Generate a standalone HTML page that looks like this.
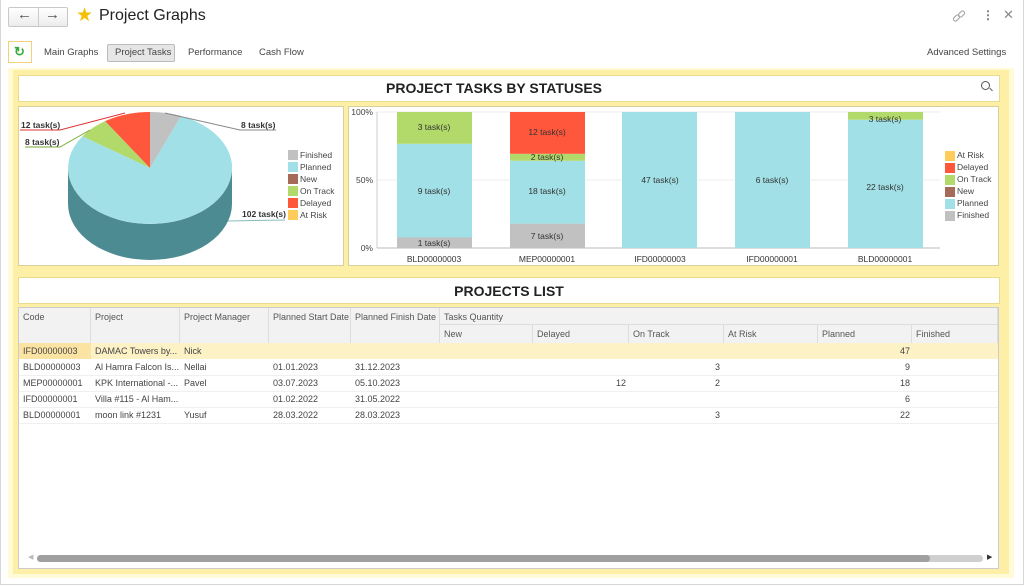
<!DOCTYPE html>
<html><head><meta charset="utf-8"><style>
*{margin:0;padding:0;box-sizing:border-box}
body{width:1024px;height:586px;overflow:hidden;background:#fff;font-family:"Liberation Sans",Arial,sans-serif;position:relative;color:#333}
.a{position:absolute}
.t{position:absolute;font-size:9px;color:#444;white-space:nowrap;line-height:16px}
.h{position:absolute;font-size:9px;color:#555;line-height:18px;padding-left:4px;border-right:1px solid #ddd;background:#f2f2f2}
</style></head><body>
<div class="a" style="left:0;top:0;width:1024px;height:585px;border:1px solid #d6d6d6;border-top:none"></div>
<!-- header -->
<div class="a" style="left:8px;top:7px;width:60px;height:20px;border:1px solid #c8c8c8;border-radius:2px;background:linear-gradient(#fff,#ececec)"></div>
<div class="a" style="left:38px;top:8px;width:1px;height:18px;background:#ccc"></div>
<div class="a" style="left:17px;top:6px;font-size:15px;color:#555;font-weight:bold">&#8592;</div>
<div class="a" style="left:45px;top:6px;font-size:15px;color:#555;font-weight:bold">&#8594;</div>
<div class="a" style="left:76px;top:4px;font-size:19px;color:#f5c000">&#9733;</div>
<div class="a" style="left:99px;top:7px;font-size:16px;color:#222">Project Graphs</div>
<svg class="a" style="left:952px;top:10px" width="14" height="14"><g fill="none" stroke="#aaa" stroke-width="1.2"><rect x="1" y="6" width="7" height="4" rx="2" transform="rotate(-45 4.5 8)"/><rect x="6" y="2" width="7" height="4" rx="2" transform="rotate(-45 9.5 4)"/></g></svg>
<div class="a" style="left:982px;top:8px;font-size:12px;color:#777;font-weight:bold">&#8942;</div>
<div class="a" style="left:1003px;top:7px;font-size:13px;color:#888">&#10005;</div>
<!-- tabs -->
<div class="a" style="left:8px;top:41px;width:24px;height:22px;border:1px solid #f1d27a;background:#fff"></div>
<div class="a" style="left:14px;top:44px;font-size:13px;color:#3aa93a;font-weight:bold">&#8635;</div>
<div class="a" style="left:44px;top:47px;font-size:9.5px;color:#444">Main Graphs</div>
<div class="a" style="left:107px;top:44px;width:68px;height:18px;border:1px solid #bbb;border-radius:2px;background:#e6e6e6"></div>
<div class="a" style="left:115px;top:47px;font-size:9.5px;color:#444">Project Tasks</div>
<div class="a" style="left:188px;top:47px;font-size:9.5px;color:#444">Performance</div>
<div class="a" style="left:259px;top:47px;font-size:9.5px;color:#444">Cash Flow</div>
<div class="a" style="left:927px;top:47px;font-size:9.5px;color:#444">Advanced Settings</div>
<!-- yellow panel -->
<div class="a" style="left:8px;top:68px;width:1006px;height:510px;background:#fffbd6"></div>
<div class="a" style="left:13px;top:70px;width:996px;height:504px;background:#fdf0a6"></div>
<div class="a" style="left:18px;top:75px;width:982px;height:27px;background:#fff;border:1px solid #e9dc8e"></div>
<div class="a" style="left:0;width:988px;top:80px;text-align:center;font-size:14px;font-weight:bold;color:#222">PROJECT TASKS BY STATUSES</div>
<div class="a" style="left:981px;top:81px;width:9px;height:9px;border:1.3px solid #555;border-radius:50%"></div>
<div class="a" style="left:989px;top:89px;width:4px;height:1.3px;background:#555;transform:rotate(45deg)"></div>
<div class="a" style="left:18px;top:106px;width:326px;height:160px;background:#fff;border:1px solid #d8cf9a"></div>
<div class="a" style="left:348px;top:106px;width:651px;height:160px;background:#fff;border:1px solid #d8cf9a"></div>
<div class="a" style="left:18px;top:277px;width:982px;height:27px;background:#fff;border:1px solid #e9dc8e"></div>
<div class="a" style="left:0;width:1018px;top:283px;text-align:center;font-size:14px;font-weight:bold;color:#222">PROJECTS LIST</div>
<div class="a" style="left:18px;top:307px;width:981px;height:262px;background:#fff;border:1px solid #ccc"></div>
<svg class="a" style="left:0;top:0" width="1024" height="586" font-family="Liberation Sans, Arial, sans-serif">
<!-- pie -->
<path d="M68,168 L68,204 A82,56 0 0 0 232,204 L232,168 A82,56 0 0 1 68,168 Z" fill="#4d8b92"/>
<path d="M150,168 L181,116 A82,56 0 1 1 82.5,136.2 Z" fill="#a1e0e6"/>
<path d="M150,168 L150,112 A82,56 0 0 1 181,116 Z" fill="#c1c1c1"/>
<path d="M150,168 L82.5,136.2 A82,56 0 0 1 105.1,121.1 Z" fill="#b2da6a"/>
<path d="M150,168 L105.1,121.1 A82,56 0 0 1 150,112 Z" fill="#fe573b"/>
<polyline points="20,130 60,130 125,113" fill="none" stroke="#d33" stroke-width="1"/>
<polyline points="25,147 60,147 90,130" fill="none" stroke="#7a3" stroke-width="1"/>
<polyline points="165,113 240,130 276,130" fill="none" stroke="#888" stroke-width="1"/>
<polyline points="228,221 285,220" fill="none" stroke="#8bb" stroke-width="1"/>
<g font-size="8.5" font-weight="bold" fill="#333">
<text x="21" y="128">12 task(s)</text><text x="25" y="145">8 task(s)</text>
<text x="241" y="128">8 task(s)</text><text x="242" y="217">102 task(s)</text></g>
<g font-size="8.5" fill="#444">
<rect x="288" y="150" width="10" height="10" fill="#c1c1c1"/><text x="300" y="158">Finished</text>
<rect x="288" y="162" width="10" height="10" fill="#a1e0e6"/><text x="300" y="170">Planned</text>
<rect x="288" y="174" width="10" height="10" fill="#a56a58"/><text x="300" y="182">New</text>
<rect x="288" y="186" width="10" height="10" fill="#b2da6a"/><text x="300" y="194">On Track</text>
<rect x="288" y="198" width="10" height="10" fill="#fe573b"/><text x="300" y="206">Delayed</text>
<rect x="288" y="210" width="10" height="10" fill="#fdcc5a"/><text x="300" y="218">At Risk</text>
</g>
<!-- bars -->
<line x1="377" y1="112" x2="940" y2="112" stroke="#eee"/>
<line x1="377" y1="180" x2="940" y2="180" stroke="#eee"/>
<line x1="377" y1="112" x2="377" y2="248" stroke="#ccc"/>
<line x1="377" y1="248" x2="940" y2="248" stroke="#bbb"/>
<g font-size="8.5" fill="#444" text-anchor="end"><text x="373" y="115">100%</text><text x="373" y="183">50%</text><text x="373" y="251">0%</text></g>
<rect x="397" y="237.5" width="75" height="10.5" fill="#c1c1c1"/><rect x="397" y="143.8" width="75" height="93.7" fill="#a1e0e6"/><rect x="397" y="112" width="75" height="31.8" fill="#b2da6a"/>
<rect x="510" y="223.6" width="75" height="24.4" fill="#c1c1c1"/><rect x="510" y="160.8" width="75" height="62.8" fill="#a1e0e6"/><rect x="510" y="153.8" width="75" height="7" fill="#b2da6a"/><rect x="510" y="112" width="75" height="41.8" fill="#fe573b"/>
<rect x="622" y="112" width="75" height="136" fill="#a1e0e6"/>
<rect x="735" y="112" width="75" height="136" fill="#a1e0e6"/>
<rect x="848" y="119.7" width="75" height="128.3" fill="#a1e0e6"/><rect x="848" y="112" width="75" height="7.7" fill="#b2da6a"/>
<g font-size="8.5" fill="#333" text-anchor="middle">
<text x="434" y="130">3 task(s)</text><text x="434" y="194">9 task(s)</text><text x="434" y="246">1 task(s)</text>
<text x="547" y="135">12 task(s)</text><text x="547" y="160">2 task(s)</text><text x="547" y="194">18 task(s)</text><text x="547" y="239">7 task(s)</text>
<text x="660" y="183">47 task(s)</text><text x="772" y="183">6 task(s)</text>
<text x="885" y="122">3 task(s)</text><text x="885" y="190">22 task(s)</text>
<text x="434" y="262">BLD00000003</text><text x="547" y="262">MEP00000001</text><text x="660" y="262">IFD00000003</text><text x="772" y="262">IFD00000001</text><text x="885" y="262">BLD00000001</text>
</g>
<g font-size="8.5" fill="#444">
<rect x="945" y="151" width="10" height="10" fill="#fdcc5a"/><text x="957" y="158">At Risk</text>
<rect x="945" y="163" width="10" height="10" fill="#fe573b"/><text x="957" y="170">Delayed</text>
<rect x="945" y="175" width="10" height="10" fill="#b2da6a"/><text x="957" y="182">On Track</text>
<rect x="945" y="187" width="10" height="10" fill="#a56a58"/><text x="957" y="194">New</text>
<rect x="945" y="199" width="10" height="10" fill="#a1e0e6"/><text x="957" y="206">Planned</text>
<rect x="945" y="211" width="10" height="10" fill="#c1c1c1"/><text x="957" y="218">Finished</text>
</g>
</svg>
<!-- table header -->
<div class="h" style="left:19px;top:308px;width:72px;height:35px">Code</div>
<div class="h" style="left:91px;top:308px;width:89px;height:35px">Project</div>
<div class="h" style="left:180px;top:308px;width:89px;height:35px">Project Manager</div>
<div class="h" style="left:269px;top:308px;width:82px;height:35px">Planned Start Date</div>
<div class="h" style="left:351px;top:308px;width:89px;height:35px">Planned Finish Date</div>
<div class="h" style="left:440px;top:308px;width:558px;height:17px;border-bottom:1px solid #ddd">Tasks Quantity</div>
<div class="h" style="left:440px;top:325px;width:93px;height:18px">New</div>
<div class="h" style="left:533px;top:325px;width:96px;height:18px">Delayed</div>
<div class="h" style="left:629px;top:325px;width:95px;height:18px">On Track</div>
<div class="h" style="left:724px;top:325px;width:94px;height:18px">At Risk</div>
<div class="h" style="left:818px;top:325px;width:94px;height:18px">Planned</div>
<div class="h" style="left:912px;top:325px;width:86px;height:18px">Finished</div>
<div class="a" style="left:19px;top:343px;width:979px;height:16px;background:#fdf1c6"></div>
<div class="a" style="left:19px;top:343px;width:72px;height:16px;background:#fbe3a3"></div>
<div class="a" style="left:19px;top:375px;width:979px;height:1px;background:#f0f0f0"></div>
<div class="a" style="left:19px;top:391px;width:979px;height:1px;background:#f0f0f0"></div>
<div class="a" style="left:19px;top:407px;width:979px;height:1px;background:#f0f0f0"></div>
<div class="a" style="left:19px;top:423px;width:979px;height:1px;background:#f0f0f0"></div>
<div class="t" style="left:23px;top:343px">IFD00000003</div><div class="t" style="left:95px;top:343px">DAMAC Towers by...</div><div class="t" style="left:184px;top:343px">Nick</div>
<div class="t" style="left:23px;top:359px">BLD00000003</div><div class="t" style="left:95px;top:359px">Al Hamra Falcon Is...</div><div class="t" style="left:184px;top:359px">Nellai</div><div class="t" style="left:273px;top:359px">01.01.2023</div><div class="t" style="left:355px;top:359px">31.12.2023</div>
<div class="t" style="left:23px;top:375px">MEP00000001</div><div class="t" style="left:95px;top:375px">KPK International -...</div><div class="t" style="left:184px;top:375px">Pavel</div><div class="t" style="left:273px;top:375px">03.07.2023</div><div class="t" style="left:355px;top:375px">05.10.2023</div>
<div class="t" style="left:23px;top:391px">IFD00000001</div><div class="t" style="left:95px;top:391px">Villa #115 - Al Ham...</div><div class="t" style="left:273px;top:391px">01.02.2022</div><div class="t" style="left:355px;top:391px">31.05.2022</div>
<div class="t" style="left:23px;top:407px">BLD00000001</div><div class="t" style="left:95px;top:407px">moon link #1231</div><div class="t" style="left:184px;top:407px">Yusuf</div><div class="t" style="left:273px;top:407px">28.03.2022</div><div class="t" style="left:355px;top:407px">28.03.2023</div>
<div class="t" style="left:870px;width:40px;text-align:right;top:343px">47</div>
<div class="t" style="left:680px;width:40px;text-align:right;top:359px">3</div><div class="t" style="left:870px;width:40px;text-align:right;top:359px">9</div>
<div class="t" style="left:586px;width:40px;text-align:right;top:375px">12</div><div class="t" style="left:680px;width:40px;text-align:right;top:375px">2</div><div class="t" style="left:870px;width:40px;text-align:right;top:375px">18</div>
<div class="t" style="left:870px;width:40px;text-align:right;top:391px">6</div>
<div class="t" style="left:680px;width:40px;text-align:right;top:407px">3</div><div class="t" style="left:870px;width:40px;text-align:right;top:407px">22</div>
<!-- scrollbar -->
<div class="a" style="left:37px;top:555px;width:946px;height:7px;border-radius:4px;background:#cfcfcf"></div>
<div class="a" style="left:37px;top:555px;width:893px;height:7px;border-radius:4px;background:#a0a0a0"></div>
<div class="a" style="left:28px;top:553px;font-size:7px;color:#bbb">&#9664;</div>
<div class="a" style="left:987px;top:553px;font-size:7px;color:#333">&#9654;</div>
</body></html>
